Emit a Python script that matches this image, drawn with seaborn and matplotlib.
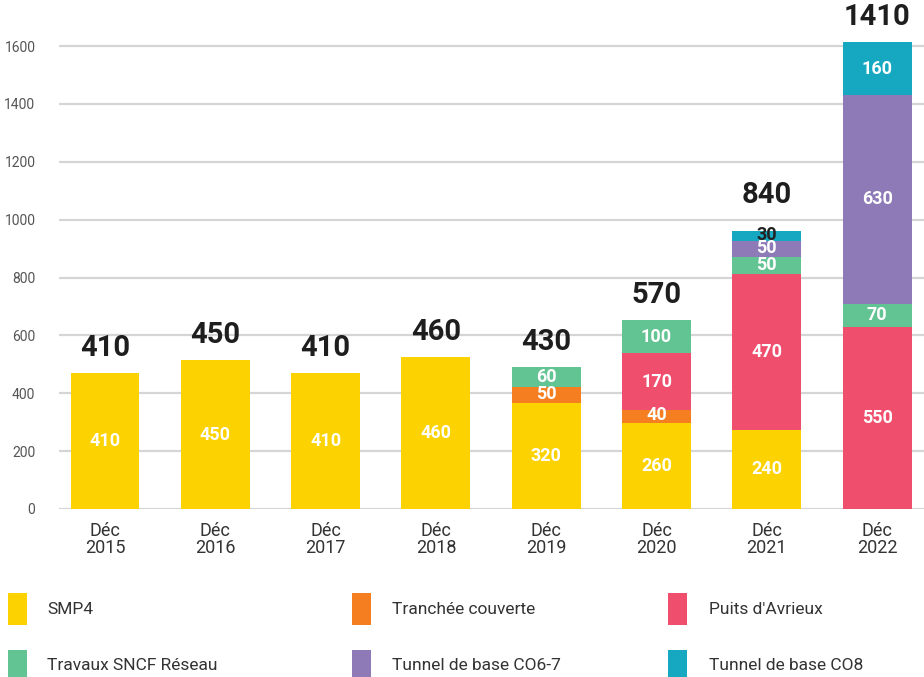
import numpy as np
import pandas as pd
import matplotlib
matplotlib.use("Agg")
import matplotlib.pyplot as plt
import matplotlib.patches as mpatches
import seaborn as sns

# Data (millions, as labelled)
years = ["2015", "2016", "2017", "2018", "2019", "2020", "2021", "2022"]
series = ["SMP4", "Tranchée couverte", "Puits d'Avrieux",
          "Travaux SNCF Réseau", "Tunnel de base CO6-7", "Tunnel de base CO8"]
smp4 = [410, 450, 410, 460, 320, 260, 240, 0]
tranchee = [0, 0, 0, 0, 50, 40, 0, 0]
puits = [0, 0, 0, 0, 0, 170, 470, 550]
sncf = [0, 0, 0, 0, 60, 100, 50, 70]
co67 = [0, 0, 0, 0, 0, 0, 50, 630]
co8 = [0, 0, 0, 0, 0, 0, 30, 160]
totals = [410, 450, 410, 460, 430, 570, 840, 1410]
yticks = [0, 200, 400, 600, 800, 1000, 1200, 1400, 1600]

colors = ["#FCD200", "#F47E20", "#EF4F6D", "#63C493", "#8E7AB7", "#16A8C1"]
# the original artwork draws bars ~1.144x taller than its own axis
AXIS_SCALE = 1.144

sns.set_theme(style="white")
plt.rcParams["font.family"] = ["Roboto", "DejaVu Sans"]

fig = plt.figure(figsize=(9.24, 6.77), dpi=100)
ax = fig.add_axes([59 / 924, (677 - 509) / 677, 1 - 59 / 924, 509 / 677])

labels = ["Déc\n" + y for y in years]
layers = [smp4, tranchee, puits, sncf, co67, co8]
bottom = np.zeros(len(years))
for name, vals, col in zip(series, layers, colors):
    h = np.array(vals, dtype=float) * AXIS_SCALE
    df = pd.DataFrame({"year": labels, "value": h})
    sns.barplot(data=df, x="year", y="value", color=col, width=0.625,
                bottom=bottom, saturation=1, linewidth=0, ax=ax, zorder=3)
    for i, v in enumerate(vals):
        if v <= 0:
            continue
        tc = "#222222" if name == "Tunnel de base CO8" and v < 50 else "white"
        dy = 4 if v < 60 else 0
        ax.text(i, bottom[i] + h[i] / 2 + dy, str(v), ha="center", va="center",
                color=tc, fontsize=13, fontweight="bold", zorder=4)
    bottom += h

for i, t in enumerate(totals):
    extra = 8 if i == 6 else 0
    ax.annotate(str(t), (i, bottom[i]), xytext=(0, 8 + extra),
                textcoords="offset points", ha="center", va="bottom",
                fontsize=21, fontweight="bold", color="#1e1e1e")

ax.set_xlim(-0.417, 7.425)
ax.set_ylim(0, 1759)
ax.set_yticks(yticks)
ax.set_yticklabels([str(v) for v in yticks], fontsize=10, color="#555555")
ax.grid(axis="y", color="#D5D5D5", linewidth=1.6, zorder=0)
ax.set_axisbelow(True)
ax.tick_params(axis="y", length=0, pad=17)
ax.tick_params(axis="x", length=0, pad=9)
for lab in ax.get_xticklabels():
    lab.set_fontsize(13)
    lab.set_color("#333333")
    lab.set_linespacing(0.95)
ax.set_xlabel("")
ax.set_ylabel("")
sns.despine(ax=ax, left=True, bottom=True)

# legend, 2 rows x 3 columns
patch_x = [8, 352, 668]
text_x = [47, 392, 709]
row_y = [(593, 625), (650, 682)]
for k, (name, col) in enumerate(zip(series, colors)):
    r, c = divmod(k, 3)
    y0, y1 = row_y[r]
    fig.patches.append(mpatches.Rectangle(
        (patch_x[c] / 924, (677 - y1) / 677), 19 / 924, (y1 - y0) / 677,
        transform=fig.transFigure, facecolor=col, edgecolor="none"))
    fig.text(text_x[c] / 924, (677 - (y0 + 16)) / 677, name, ha="left",
             va="center", fontsize=12.5, color="#333333")

fig.savefig("out.png", dpi=100)
